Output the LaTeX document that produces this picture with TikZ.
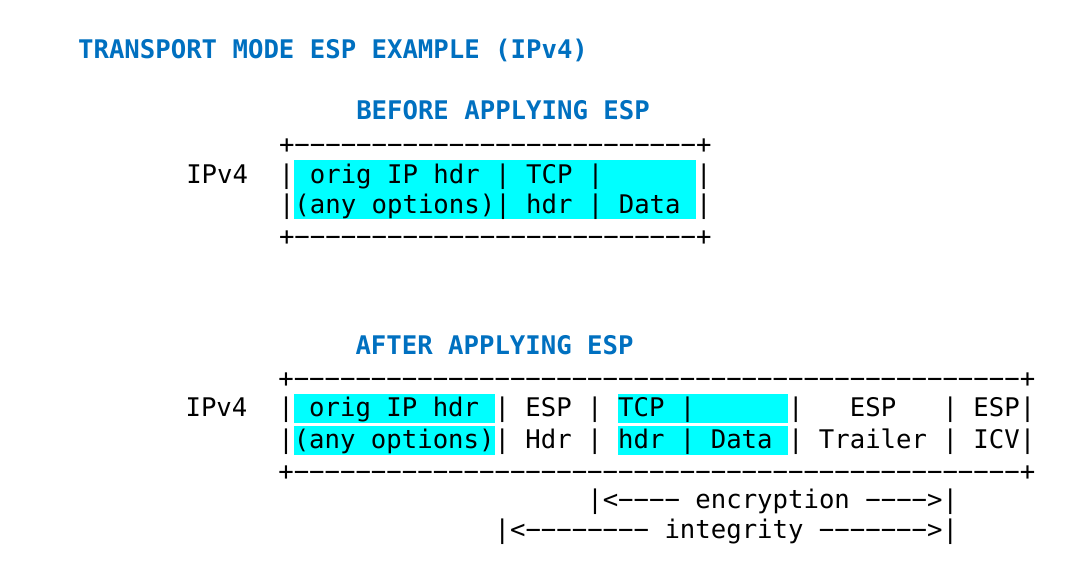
\documentclass[tikz,border=0pt]{standalone}
\usepackage{fontspec}
\setmonofont{DejaVu Sans Mono}
\definecolor{hdblue}{RGB}{0,112,192}
\definecolor{hlcyan}{RGB}{0,255,255}
\begin{document}
\begin{tikzpicture}[x=1pt,y=-1pt,
  mono/.style={anchor=base west,inner sep=0pt,outer sep=0pt,font=\fontsize{25.66}{30}\selectfont\ttfamily},
  heading/.style={mono,text=hdblue,font=\fontsize{25.66}{30}\selectfont\ttfamily\bfseries},
  hl/.style={fill=hlcyan,draw=none}]
\useasboundingbox[fill=white] (0,0) rectangle (1071,566);
% cyan highlights
\fill[hl] (294.45,160) rectangle (696.15,189.3);
\fill[hl] (294.45,189.3) rectangle (696.15,219);
\fill[hl] (293.75,393.7) rectangle (494.6,422.7);
\fill[hl] (293.75,425.7) rectangle (494.6,455);
\fill[hl] (618.2,393.7) rectangle (788.15,422.7);
\fill[hl] (618.2,425.7) rectangle (788.15,455);
% headings
\node[heading] (title) at (78.15,58.3) {TRANSPORT~MODE~ESP~EXAMPLE~(IPv4)};
\node[heading] (bhead) at (356.25,119.3) {BEFORE~APPLYING~ESP};
\node[heading] (ahead) at (355.5,354.3) {AFTER~APPLYING~ESP};
% before
\node[mono] (b1) at (279,153.5) {+−−−−−−−−−−−−−−−−−−−−−−−−−−+};
\node[mono] (b2) at (186.3,183.3) {IPv4~~|~orig~IP~hdr~|~TCP~|~~~~~~|};
\node[mono] (b3) at (279,213.3) {|(any~options)|~hdr~|~Data~|};
\node[mono] (b4) at (279,245.5) {+−−−−−−−−−−−−−−−−−−−−−−−−−−+};
% after
\node[mono] (a1) at (278.3,387) {+−−−−−−−−−−−−−−−−−−−−−−−−−−−−−−−−−−−−−−−−−−−−−−−+};
\node[mono] (a2) at (185.6,416.7) {IPv4~~|~orig~IP~hdr~|~ESP~|~TCP~|~~~~~~|~~~ESP~~~|~ESP|};
\node[mono] (a3) at (278.3,448.3) {|(any~options)|~Hdr~|~hdr~|~Data~|~Trailer~|~ICV|};
\node[mono] (a4) at (278.3,480.5) {+−−−−−−−−−−−−−−−−−−−−−−−−−−−−−−−−−−−−−−−−−−−−−−−+};
\node[mono] (enc) at (587.3,508.3) {|<−−−−~encryption~−−−−>|};
\node[mono] (integ) at (494.6,538.5) {|<−−−−−−−−~integrity~−−−−−−−>|};
\end{tikzpicture}
\end{document}
